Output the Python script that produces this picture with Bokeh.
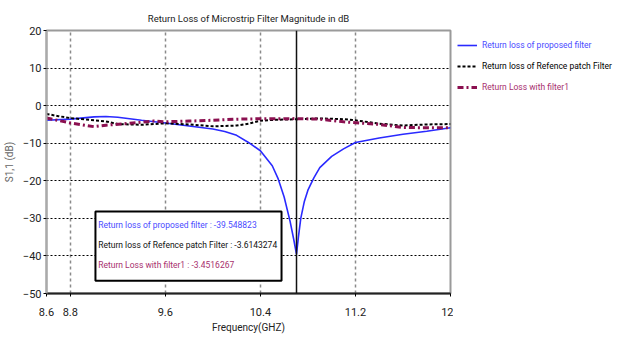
from bokeh.plotting import figure
from bokeh.layouts import row
from bokeh.models import (FixedTicker, Label, BoxAnnotation, Legend, LegendItem,
                          Span, Range1d)
from bokeh.embed import file_html
from bokeh.resources import INLINE

# ---------------- data ----------------
freq_proposed = [8.6, 8.8, 9.0, 9.1, 9.2, 9.4, 9.6, 9.8, 10.0, 10.1, 10.2, 10.3,
                 10.4, 10.5, 10.55, 10.6, 10.65, 10.68, 10.704, 10.72, 10.74,
                 10.77, 10.8, 10.85, 10.9, 11.0, 11.1, 11.2, 11.4, 11.6, 11.8, 12.0]
s11_proposed = [-3.9, -3.6, -3.0, -2.9, -3.1, -3.9, -4.6, -5.4, -6.2, -6.9, -7.9, -9.8,
                -12.0, -16.0, -19.5, -24.3, -30.8, -35.5, -39.55, -35.0, -30.0,
                -25.5, -22.5, -19.2, -16.5, -13.5, -11.5, -9.8, -8.6, -7.6, -6.8, -5.9]

freq_ref = [8.6, 8.7, 8.8, 9.0, 9.1, 9.2, 9.4, 9.6, 9.8, 10.0, 10.2, 10.3, 10.4, 10.5,
            10.704, 10.9, 11.1, 11.2, 11.4, 11.6, 11.8, 12.0]
s11_ref = [-2.2, -2.8, -3.3, -3.9, -4.2, -4.9, -5.1, -4.7, -5.0, -5.5, -5.3, -4.8, -4.0,
           -3.8, -3.61, -3.4, -3.6, -3.9, -4.8, -5.3, -5.0, -4.9]

freq_f1 = [8.6, 8.8, 9.0, 9.1, 9.3, 9.5, 9.6, 9.8, 10.0, 10.2, 10.4, 10.704, 10.9,
           11.1, 11.4, 11.6, 11.8, 12.0]
s11_f1 = [-3.3, -4.6, -5.6, -5.2, -4.7, -4.1, -4.3, -4.1, -3.9, -3.6, -3.5, -3.45, -3.6,
          -4.3, -5.0, -5.8, -5.9, -5.9]

series_names = ["Return loss of proposed filter",
                "Return loss of Refence patch Filter",
                "Return Loss with filter1"]
marker_freq = 10.704
marker_values = ["-39.548823", "-3.6143274", "-3.4516267"]
title_text = "Return Loss of Microstrip Filter Magnitude in dB"

x_ticks = [8.6, 8.8, 9.6, 10.4, 11.2, 12.0]
x_tick_labels = ["8.6", "8.8", "9.6", "10.4", "11.2", "12"]
y_ticks = [20, 10, 0, -10, -20, -30, -40, -50]
x_grid = [8.8, 9.6, 10.4, 11.2]
y_grid = [10, 0, -10, -20, -30, -40]

# ---------------- styling ----------------
FONT = "Roboto"
BLUE = "#2a2aff"
BLUE_TXT = "#4b4bff"
BLACK = "#000000"
PURPLE = "#8b1050"
PURPLE_TXT = "#a8306e"

X0, X1, Y0, Y1 = 8.6, 12.0, -50, 20
p = figure(frame_width=404, frame_height=263, x_range=Range1d(X0, X1),
           y_range=Range1d(Y0, Y1),
           output_backend="svg", toolbar_location=None,
           min_border_left=39, min_border_right=3, min_border_top=30,
           min_border_bottom=40, title=title_text)
p.title.align = "center"
p.title.text_font = FONT
p.title.text_font_size = "9.5px"
p.title.text_font_style = "normal"
p.title.text_color = "#222222"
p.title.standoff = 13

p.outline_line_color = "#9a9a9a"
p.outline_line_width = 2

p.xaxis.ticker = FixedTicker(ticks=x_ticks)
p.xaxis.major_label_overrides = {t: l for t, l in zip(x_ticks, x_tick_labels)}
p.yaxis.ticker = FixedTicker(ticks=y_ticks)
for ax in (p.xaxis[0], p.yaxis[0]):
    ax.major_label_text_font = FONT
    ax.major_label_text_font_size = "11px"
    ax.major_label_text_color = "#222222"
    ax.minor_tick_line_color = None
    ax.major_tick_in = 0
    ax.major_tick_out = 3
    ax.axis_label_text_font = FONT
    ax.axis_label_text_font_size = "10px"
    ax.axis_label_text_font_style = "normal"
p.xaxis.axis_label = "Frequency(GHZ)"
p.xaxis.axis_label_text_color = "#222222"
p.xaxis.axis_line_color = "#222222"
p.xaxis.axis_line_width = 2
p.xaxis.major_label_standoff = 11
p.xaxis.axis_label_standoff = 3
p.yaxis.axis_label = "S1,1 (dB)"
p.yaxis.axis_label_text_color = "#666666"
p.yaxis.axis_line_color = "#aaaaaa"
p.yaxis.axis_line_width = 2
p.yaxis.major_label_standoff = 2
p.yaxis.axis_label_standoff = 5

p.xgrid.ticker = FixedTicker(ticks=x_grid)
p.xgrid.grid_line_color = "#8a8a8a"
p.xgrid.grid_line_dash = "3 3"
p.xgrid.grid_line_width = 1.5
p.ygrid.ticker = FixedTicker(ticks=y_grid)
p.ygrid.grid_line_color = "#000000"
p.ygrid.grid_line_dash = "2 2"
p.ygrid.grid_line_width = 1

# marker line
p.add_layout(Span(location=marker_freq, dimension="height", line_color="#111111",
                  line_width=1.5))

r1 = p.line(freq_proposed, s11_proposed, line_color=BLUE, line_width=1.6)
r2 = p.line(freq_ref, s11_ref, line_color=BLACK, line_width=2, line_dash="3 2")
r3 = p.line(freq_f1, s11_f1, line_color=PURPLE, line_width=3, line_dash="6 3 2 3")

# marker readout box
p.add_layout(BoxAnnotation(left=9.012, right=10.578, top=-28.2, bottom=-46.6,
                           fill_color="white", fill_alpha=1,
                           line_color="black", line_width=2, line_alpha=1,
                           level="overlay"))
for i, (col, yv) in enumerate(zip([BLUE_TXT, "#111111", PURPLE_TXT], [-31.7, -37.0, -42.3])):
    p.add_layout(Label(x=9.035, y=yv, text=f"{series_names[i]} : {marker_values[i]}",
                       text_font=FONT, text_font_size="8.5px", text_color=col,
                       text_baseline="middle", text_align="left", level="overlay"))

# boxed marker tick
p.add_layout(Label(x=marker_freq, y=Y0, y_offset=-19, text=f"{marker_freq:g}",
                   text_font=FONT, text_font_size="11px", text_color="#222222",
                   text_align="center", text_baseline="middle",
                   border_line_color="#333333", border_line_width=1,
                   background_fill_color="white", padding=2))

# ---------------- legend panel ----------------
q = figure(width=163, height=327, x_range=Range1d(0, 1), y_range=Range1d(0, 1),
           output_backend="svg", toolbar_location=None, min_border=0)
q.axis.visible = False
q.grid.visible = False
q.outline_line_color = None
styles = [dict(line_color=BLUE, line_width=1.6),
          dict(line_color=BLACK, line_width=2, line_dash="3 2"),
          dict(line_color=PURPLE, line_width=3, line_dash="6 3 2 3")]
for i, (st, col) in enumerate(zip(styles, [BLUE_TXT, BLACK, PURPLE_TXT])):
    dummy = q.line(x=[float("nan")], y=[float("nan")], **st)
    lg = Legend(items=[LegendItem(label=series_names[i], renderers=[dummy])],
                location=(4, 233 - 21 * i), background_fill_alpha=0,
                border_line_color=None, padding=0, margin=0,
                glyph_width=20, glyph_height=14, label_standoff=5,
                label_text_font=FONT, label_text_font_size="8.5px",
                label_text_color=col, label_height=14)
    q.add_layout(lg, "center")

open("out.html", "w").write(file_html(row(p, q), INLINE))
